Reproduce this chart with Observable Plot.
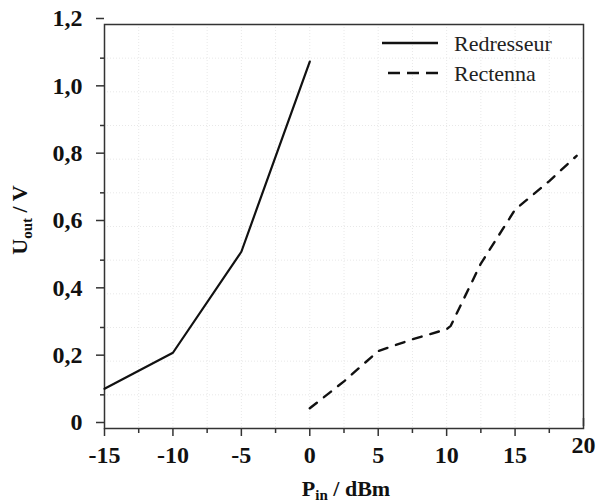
<!DOCTYPE html>
<html>
<head>
<meta charset="utf-8">
<script src="https://cdn.jsdelivr.net/npm/d3@7"></script>
<script src="https://cdn.jsdelivr.net/npm/@observablehq/plot@0.6"></script>
<style>
  html, body { margin: 0; padding: 0; background: #fff; }
  #chart { width: 598px; height: 503px; }
</style>
</head>
<body>
<div id="chart"></div>
<script>
// Data
const redresseurP = [-15, -10, -5, 0];
const redresseurU = [0.118, 0.225, 0.525, 1.09];
const rectennaP = [0, 2.5, 5, 7.5, 10, 10.3, 12.5, 15, 17.5, 19.5];
const rectennaU = [0.06, 0.14, 0.23, 0.265, 0.295, 0.305, 0.49, 0.65, 0.735, 0.81];
const seriesNames = ["Redresseur", "Rectenna"];
const xTicks = [-15, -10, -5, 0, 5, 10, 15];
const xTickLast = [20];
const xMinor = [-12.5, -7.5, -2.5, 2.5, 7.5, 12.5, 17.5];
const yTicks = [0, 0.2, 0.4, 0.6, 0.8, 1.0, 1.2];
const yMinor = [0.1, 0.3, 0.5, 0.7, 0.9, 1.1];
const xLabel = ["P", "in", " / dBm"];
const yLabel = ["U", "out", " / V"];

const red = redresseurP.map((p, i) => ({p, u: redresseurU[i]}));
const rect = rectennaP.map((p, i) => ({p, u: rectennaU[i]}));

const font = "Liberation Serif, Times New Roman, serif";
const fmt = d => d === 0 ? "0" : d.toFixed(1).replace(".", ",");
const axisStyle = {fontSize: 24, fontWeight: "bold", fontFamily: font, fill: "#111"};

const W = 598, H = 503;
const chart = Plot.plot({
  width: W,
  height: H,
  marginLeft: 104,
  marginRight: 15,
  marginTop: 24,
  marginBottom: 75,
  style: {fontFamily: font, background: "#fff", color: "#222"},
  x: {domain: [-15, 20], label: null},
  y: {domain: [0, 1.2], label: null},
  marks: [
    Plot.gridX([...xTicks, ...xTickLast, ...xMinor], {stroke: "#e8e8e8", strokeOpacity: 1, strokeDasharray: "1,2"}),
    Plot.gridY([...yTicks, ...yMinor], {stroke: "#e8e8e8", strokeOpacity: 1, strokeDasharray: "1,2"}),
    Plot.axisX(xTicks, {tickSize: 8, tickPadding: 9, tickFormat: d => String(d), stroke: "#333", strokeWidth: 1.5, ...axisStyle}),
    Plot.axisX(xTickLast, {tickSize: 8, tickPadding: 9, dy: -10, tickFormat: d => String(d), stroke: "#333", strokeWidth: 1.5, ...axisStyle}),
    Plot.axisX(xMinor, {tickSize: 5, tickFormat: null, text: null, stroke: "#333", strokeWidth: 1.5}),
    Plot.axisY(yTicks, {tickSize: 8, tickPadding: 14, dy: -6, tickFormat: fmt, stroke: "#333", strokeWidth: 1.5, ...axisStyle}),
    Plot.axisY(yMinor, {tickSize: 4, tickFormat: null, text: null, stroke: "#333", strokeWidth: 1.5}),
    Plot.frame({stroke: "#333", strokeWidth: 1.5}),
    Plot.line(red, {x: "p", y: "u", stroke: "#111", strokeWidth: 2.2}),
    Plot.line(rect, {x: "p", y: "u", stroke: "#111", strokeWidth: 2.4, strokeDasharray: "9,9"})
  ]
});
document.getElementById("chart").appendChild(chart);

const svg = d3.select(chart);
// Legend
const leg = svg.append("g").attr("font-family", font).attr("font-size", 22).attr("fill", "#222")
  .attr("text-anchor", "start");
const styles = [null, "12,7"];
seriesNames.forEach((name, i) => {
  const y = 43 + i * 30;
  leg.append("line").attr("x1", i ? 388 : 382).attr("x2", 438).attr("y1", y).attr("y2", y)
    .attr("stroke", "#111").attr("stroke-width", 2.5).attr("stroke-dasharray", styles[i]);
  leg.append("text").attr("x", 454).attr("y", y + 8).text(name);
});

// Axis titles
const xt = svg.append("text").attr("x", 346).attr("y", 496).attr("text-anchor", "middle")
  .attr("font-family", font).attr("font-size", 22).attr("font-weight", "bold").attr("fill", "#111");
xt.append("tspan").text(xLabel[0]);
xt.append("tspan").attr("dy", 4).attr("font-size", 15).text(xLabel[1]);
xt.append("tspan").attr("dy", -4).text(xLabel[2]);

const yt = svg.append("text").attr("transform", "translate(27,220) rotate(-90)").attr("text-anchor", "middle")
  .attr("font-family", font).attr("font-size", 22).attr("font-weight", "bold").attr("fill", "#111");
yt.append("tspan").text(yLabel[0]);
yt.append("tspan").attr("dy", 5).attr("font-size", 15).text(yLabel[1]);
yt.append("tspan").attr("dy", -5).text(yLabel[2]);
</script>
</body>
</html>
